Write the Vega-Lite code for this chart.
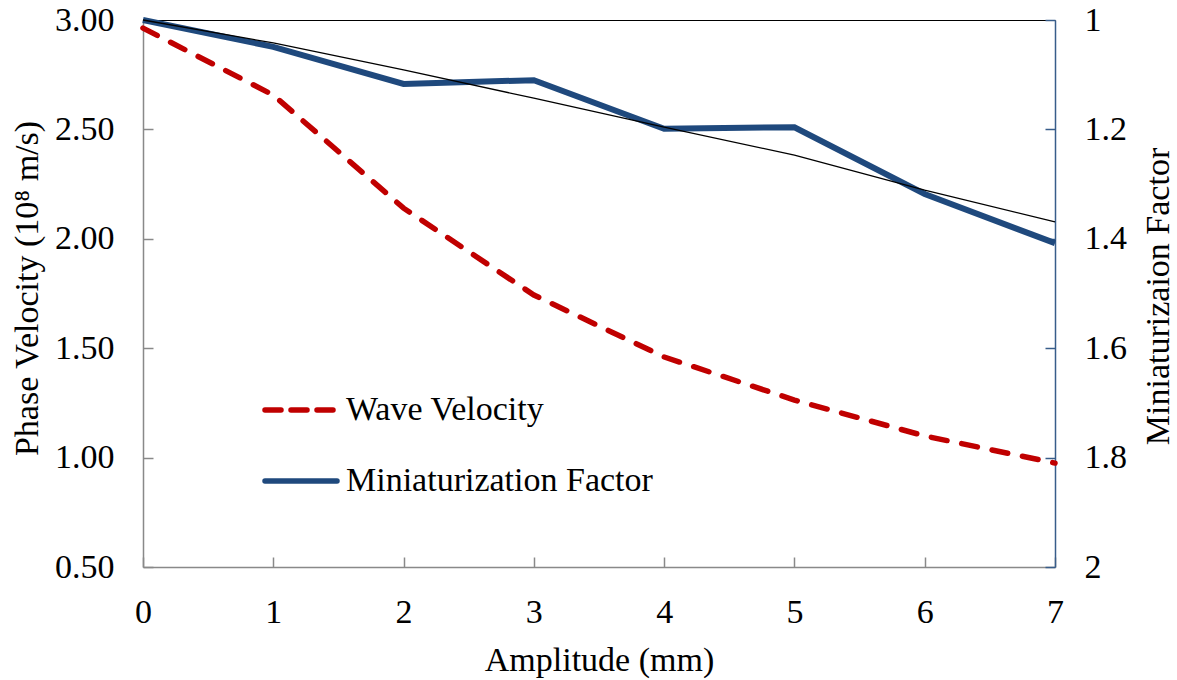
{
  "$schema": "https://vega.github.io/schema/vega-lite/v6.json",
  "width": 912,
  "height": 547,
  "autosize": {"type": "none"},
  "padding": {"left": 143, "top": 20, "right": 122, "bottom": 113},
  "background": "white",
  "config": {
    "view": {"stroke": null},
    "font": "Liberation Serif",
    "axis": {
      "labelFont": "Liberation Serif",
      "titleFont": "Liberation Serif",
      "labelColor": "black",
      "titleColor": "black",
      "labelFontSize": 34,
      "titleFontSize": 34,
      "titleFontWeight": "normal",
      "grid": false,
      "labelFlush": false,
      "labelOverlap": false
    }
  },
  "data": {
    "values": [
      {"x": 0, "wave": 2.963, "mini": 1.0, "trend": 1.0},
      {"x": 1, "wave": 2.657, "mini": 1.049, "trend": 1.042},
      {"x": 2, "wave": 2.14, "mini": 1.117, "trend": 1.091},
      {"x": 3, "wave": 1.743, "mini": 1.11, "trend": 1.143},
      {"x": 4, "wave": 1.46, "mini": 1.199, "trend": 1.196},
      {"x": 5, "wave": 1.263, "mini": 1.196, "trend": 1.247},
      {"x": 6, "wave": 1.099, "mini": 1.318, "trend": 1.311},
      {"x": 7, "wave": 0.975, "mini": 1.408, "trend": 1.369}
    ]
  },
  "layer": [
    {
      "mark": {"type": "line", "strokeWidth": 5.5, "strokeDash": [16, 15], "strokeCap": "round"},
      "encoding": {
        "x": {
          "field": "x", "type": "quantitative",
          "scale": {"domain": [0, 7], "nice": false, "zero": false},
          "axis": {
            "orient": "bottom",
            "values": [0, 1, 2, 3, 4, 5, 6, 7],
            "format": "d",
            "domainColor": "#898989",
            "domainWidth": 1.5,
            "tickColor": "#898989",
            "tickWidth": 1.5,
            "tickSize": -10,
            "labelPadding": 38,
            "title": "Amplitude (mm)",
            "titleX": 456,
            "titleY": 103,
            "titleBaseline": "alphabetic",
            "titleAlign": "center"
          }
        },
        "y": {
          "field": "wave", "type": "quantitative",
          "scale": {"domain": [0.5, 3], "nice": false, "zero": false},
          "axis": {
            "orient": "left",
            "values": [0.5, 1, 1.5, 2, 2.5, 3],
            "format": ".2f",
            "domainColor": "#898989",
            "domainWidth": 1.5,
            "tickColor": "#898989",
            "tickWidth": 1.5,
            "tickSize": -10,
            "labelPadding": 39,
            "title": "Phase Velocity (10⁸ m/s)",
            "titleAngle": -90,
            "titleX": -106,
            "titleY": 268,
            "titleBaseline": "alphabetic",
            "titleAlign": "center"
          }
        },
        "color": {
          "datum": "Wave Velocity",
          "scale": {"domain": ["Wave Velocity", "Miniaturization Factor"], "range": ["#c00000", "#1f497d"]},
          "legend": {
            "orient": "none",
            "legendX": 119,
            "legendY": 351,
            "title": null,
            "symbolType": "stroke",
            "symbolSize": 5184,
            "symbolStrokeWidth": 5.5,
            "labelFont": "Liberation Serif",
            "labelFontSize": 34,
            "labelColor": "black",
            "labelOffset": 6,
            "labelLimit": 0,
            "rowPadding": 15,
            "padding": 0,
            "encode": {
              "symbols": {
                "update": {
                  "strokeDash": {"signal": "datum.value === 'Wave Velocity' ? [16,10] : [1,0]"},
                  "strokeCap": {"value": "round"}
                }
              }
            }
          }
        }
      }
    },
    {
      "encoding": {
        "x": {
          "field": "x", "type": "quantitative",
          "scale": {"domain": [0, 7], "nice": false, "zero": false},
          "axis": {"orient": "top", "domainColor": "black", "domainWidth": 1.2, "ticks": false, "labels": false, "title": null}
        }
      },
      "layer": [
        {
          "mark": {"type": "line", "strokeWidth": 6},
          "encoding": {
            "y": {
              "field": "mini", "type": "quantitative",
              "scale": {"domain": [1, 2], "reverse": true, "nice": false, "zero": false},
              "axis": {
                "orient": "right",
                "values": [1, 1.2, 1.4, 1.6, 1.8, 2],
                "format": "~g",
                "domainColor": "#385d8a",
                "domainWidth": 1.5,
                "tickColor": "#385d8a",
                "tickWidth": 1.5,
                "tickSize": -10,
                "labelPadding": 39,
                "title": "Miniaturizaion Factor",
                "titleAngle": -90,
                "titleX": 113,
                "titleY": 276,
                "titleBaseline": "alphabetic",
                "titleAlign": "center"
              }
            },
            "color": {
              "datum": "Miniaturization Factor",
              "scale": {"domain": ["Wave Velocity", "Miniaturization Factor"], "range": ["#c00000", "#1f497d"]}
            }
          }
        },
        {
          "mark": {"type": "line", "strokeWidth": 1.3, "color": "black"},
          "encoding": {
            "y": {"field": "trend", "type": "quantitative"}
          }
        }
      ]
    }
  ],
  "resolve": {"scale": {"y": "independent"}, "axis": {"x": "independent"}}
}
